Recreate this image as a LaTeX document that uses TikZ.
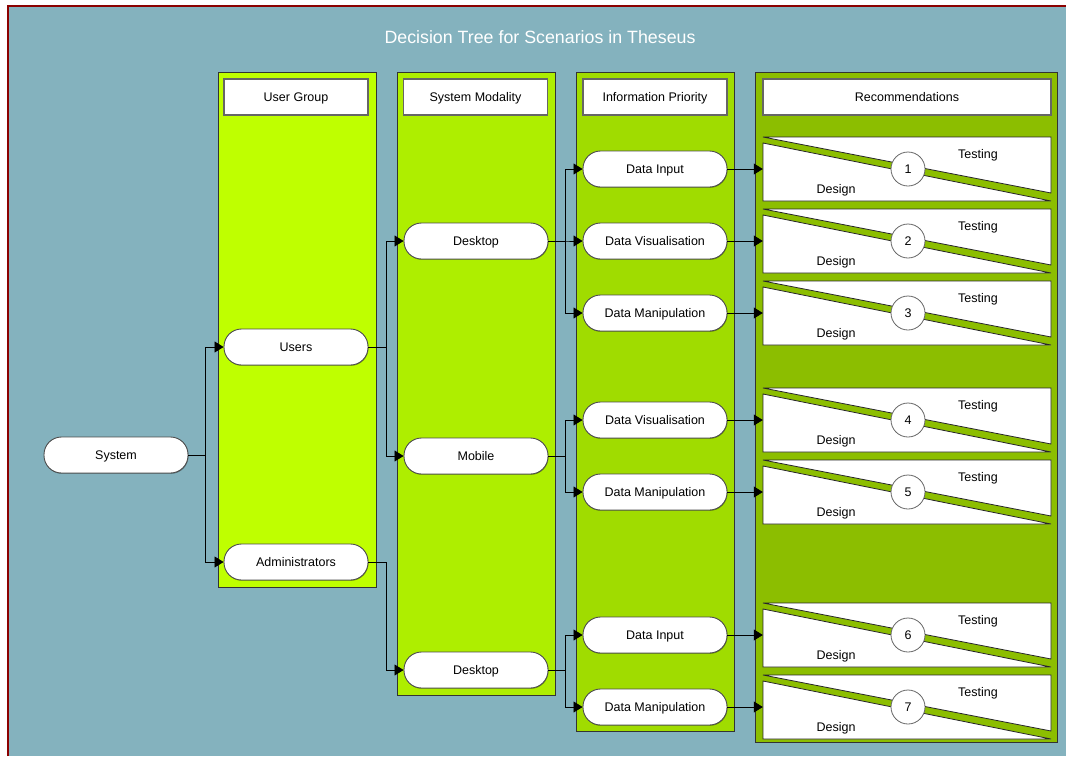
\documentclass[tikz,border=0pt]{standalone}
\usepackage{fontspec}
\setmainfont{Liberation Sans}
\usetikzlibrary{arrows.meta,shadows}
\definecolor{bg}{RGB}{132,178,190}
\definecolor{framered}{RGB}{139,0,0}
\definecolor{ugc}{RGB}{191,255,0}
\definecolor{smc}{RGB}{174,238,0}
\definecolor{ipc}{RGB}{160,220,0}
\definecolor{rcc}{RGB}{140,190,0}
\newcommand\RecBox[3]{%
  \node[recnode] (#1) at (907,#2) {};
  \filldraw[tri] (763,#2-32) -- (1051,#2-32) -- (1051,#2+24) -- cycle;
  \filldraw[tri] (763,#2-26) -- (1051,#2+32) -- (763,#2+32) -- cycle;
  \node[numc] (#1n) at (908,#2) {#3};
  \node (#1d) at (836,#2+21) {Design};
  \node (#1t) at (978,#2-14) {Testing};
}
\begin{document}
\begin{tikzpicture}[x=1pt,y=-1pt,
  every node/.style={font=\fontsize{12.5}{14}\selectfont, text=black},
  colbox/.style={draw=black!80, line width=0.8pt},
  header/.style={draw=black!60, fill=white, line width=1.2pt, minimum width=144pt, minimum height=36pt, inner sep=0pt, text depth=0pt},
  pill/.style={draw=black!70, fill=white, line width=0.9pt, rounded corners=17.5pt, minimum width=144pt, minimum height=36pt, inner sep=0pt, text depth=0pt, drop shadow={shadow xshift=0.5pt, shadow yshift=-0.8pt, opacity=0.35, fill=black}},
  conn/.style={draw=black, line width=0.8pt, -{Triangle[length=9pt,width=11pt]}},
  recnode/.style={minimum width=288pt, minimum height=64pt, inner sep=0pt},
  tri/.style={fill=white, draw=black!85, line width=0.8pt, line join=miter},
  numc/.style={circle, draw=black!60, fill=white, line width=0.8pt, minimum size=34pt, inner sep=0pt}
]
\useasboundingbox (0,0) rectangle (1066,756);
\fill[white] (0,0) rectangle (1066,756);
\fill[bg] (8,6) rectangle (1066,756);
\draw[framered, line width=2pt] (8,756) -- (8,6) -- (1066,6);
\node[text=white, font=\fontsize{17.8}{20}\selectfont] (title) at (540,37) {Decision Tree for Scenarios in Theseus};

% columns
\filldraw[colbox, fill=ugc] (218,72) rectangle (376,587);
\filldraw[colbox, fill=smc] (397,72) rectangle (555,695);
\filldraw[colbox, fill=ipc] (576,72) rectangle (734,731);
\filldraw[colbox, fill=rcc] (755,72) rectangle (1057,742);

% headers
\node[header] (hug) at (296,97) {User Group};
\node[header] (hsm) at (475.5,97) {System Modality};
\node[header] (hip) at (655,97) {Information Priority};
\node[header, minimum width=288pt] (hrc) at (907,97) {Recommendations};

% nodes
\node[pill] (sys) at (116,455) {System};
\node[pill] (users) at (296,347) {Users};
\node[pill] (admin) at (296,562) {Administrators};
\node[pill] (desk) at (476,241) {Desktop};
\node[pill] (mob) at (476,456) {Mobile};
\node[pill] (desk2) at (476,670) {Desktop};
\node[pill] (di1) at (655,169) {Data Input};
\node[pill] (dv1) at (655,241) {Data Visualisation};
\node[pill] (dm1) at (655,313) {Data Manipulation};
\node[pill] (dv2) at (655,420) {Data Visualisation};
\node[pill] (dm2) at (655,492) {Data Manipulation};
\node[pill] (di3) at (655,635) {Data Input};
\node[pill] (dm3) at (655,707) {Data Manipulation};

% recommendation boxes
\RecBox{r1}{169}{1}
\RecBox{r2}{241}{2}
\RecBox{r3}{313}{3}
\RecBox{r4}{420}{4}
\RecBox{r5}{492}{5}
\RecBox{r6}{635}{6}
\RecBox{r7}{707}{7}

% connectors
\draw[conn] (sys.east) -- ++(17,0) |- (users.west);
\draw[conn] (sys.east) -- ++(17,0) |- (admin.west);
\draw[conn] (users.east) -- ++(18,0) |- (desk.west);
\draw[conn] (users.east) -- ++(18,0) |- (mob.west);
\draw[conn] (admin.east) -- ++(18,0) |- (desk2.west);
\draw[conn] (desk.east) -- ++(17,0) |- (di1.west);
\draw[conn] (desk.east) -- ++(17,0) |- (dv1.west);
\draw[conn] (desk.east) -- ++(17,0) |- (dm1.west);
\draw[conn] (mob.east) -- ++(17,0) |- (dv2.west);
\draw[conn] (mob.east) -- ++(17,0) |- (dm2.west);
\draw[conn] (desk2.east) -- ++(17,0) |- (di3.west);
\draw[conn] (desk2.east) -- ++(17,0) |- (dm3.west);
\draw[conn] (di1.east) -- (r1.west);
\draw[conn] (dv1.east) -- (r2.west);
\draw[conn] (dm1.east) -- (r3.west);
\draw[conn] (dv2.east) -- (r4.west);
\draw[conn] (dm2.east) -- (r5.west);
\draw[conn] (di3.east) -- (r6.west);
\draw[conn] (dm3.east) -- (r7.west);
\end{tikzpicture}
\end{document}
